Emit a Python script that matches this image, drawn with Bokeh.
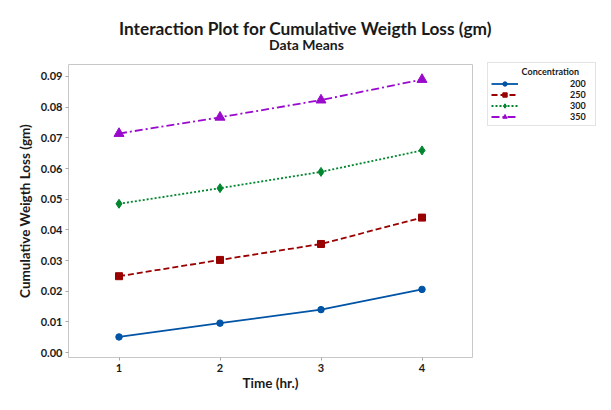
from bokeh.plotting import figure
from bokeh.models import Legend, LegendItem, Label, FixedTicker, NumeralTickFormatter, Range1d
from bokeh.embed import file_html
from bokeh.resources import INLINE

# ---- data ----
time_hr = [1, 2, 3, 4]
concentrations = ["200", "250", "300", "350"]
conc_200 = [0.0051, 0.0096, 0.0140, 0.0206]
conc_250 = [0.0249, 0.0302, 0.0354, 0.0440]
conc_300 = [0.0485, 0.0536, 0.0589, 0.0659]
conc_350 = [0.0714, 0.0767, 0.0823, 0.0890]
y_ticks = [0.00, 0.01, 0.02, 0.03, 0.04, 0.05, 0.06, 0.07, 0.08, 0.09]
x_ticks = [1, 2, 3, 4]

series = [conc_200, conc_250, conc_300, conc_350]
colors = ["#0054A6", "#990000", "#00862E", "#9A0ACD"]
dashes = ["solid", "6 3", "2 2", "8 3 2 3"]
markers = ["circle", "square", "diamond", "triangle"]
msizes = [6.5, 7, 9, 10]

FONT = "Lato"
TXT = "#1a1a1a"

p = figure(frame_width=404, frame_height=293, output_backend="svg", toolbar_location=None,
           x_range=Range1d(0.5, 4.5), y_range=Range1d(-0.0016, 0.0939),
           min_border_left=68, min_border_right=138, min_border_top=64, min_border_bottom=52)
p.styles = {"outline": "1px solid #d6d6d6", "outline-offset": "-4px"}

p.xgrid.visible = False
p.ygrid.visible = False
p.outline_line_color = "#c8c8c8"
p.outline_line_width = 1
p.background_fill_color = "white"
p.border_fill_color = "white"

for ax in (p.xaxis[0], p.yaxis[0]):
    ax.axis_line_color = None
    ax.major_tick_line_color = "#a8a8a8"
    ax.major_tick_in = 0
    ax.major_tick_out = 3
    ax.minor_tick_line_color = None
    ax.major_label_standoff = 3
    ax.major_label_text_font = FONT
    ax.major_label_text_font_style = "bold"
    ax.major_label_text_font_size = "11px"
    ax.major_label_text_color = TXT
    ax.axis_label_text_font = FONT
    ax.axis_label_text_font_style = "bold"
    ax.axis_label_text_font_size = "13.5px"
    ax.axis_label_text_color = TXT

p.xaxis.ticker = FixedTicker(ticks=x_ticks)
p.yaxis.ticker = FixedTicker(ticks=y_ticks)
p.yaxis.formatter = NumeralTickFormatter(format="0.00")
p.xaxis.axis_label = "Time (hr.)"
p.yaxis.axis_label = "Cumulative Weigth Loss (gm)"
p.xaxis.axis_label_standoff = 0
p.yaxis.axis_label_standoff = 5

items = []
for name, vals, c, d, m, s in zip(concentrations, series, colors, dashes, markers, msizes):
    ln = p.line(time_hr, vals, line_color=c, line_width=1.8, line_dash=d)
    sc = p.scatter(time_hr, vals, marker=m, size=s, fill_color=c, line_color=c)
    items.append(LegendItem(label=name, renderers=[ln, sc]))

legend = Legend(items=items, location=(15, 231),
                title="\u00a0" * 14 + "Concentration",
                title_text_font=FONT, title_text_font_size="9px", title_text_font_style="bold",
                title_text_color=TXT, title_standoff=1,
                label_text_font=FONT, label_text_font_size="9px", label_text_font_style="bold",
                label_text_color=TXT,
                glyph_width=27, glyph_height=11, label_height=11, label_width=22,
                label_standoff=52, spacing=0, padding=3, margin=0,
                border_line_color="#c8c8c8", background_fill_color="white", background_fill_alpha=1)
p.add_layout(legend, "right")

p.add_layout(Label(x=237, y=36, x_units="screen", y_units="screen",
                   text="Interaction Plot for Cumulative Weigth Loss (gm)",
                   text_align="center", text_baseline="alphabetic", text_font=FONT,
                   text_font_size="17.3px", text_font_style="bold", text_color=TXT), "above")
p.add_layout(Label(x=238, y=-1, x_units="screen", y_units="screen",
                   text="Data Means",
                   text_align="center", text_baseline="alphabetic", text_font=FONT,
                   text_font_size="14px", text_font_style="bold", text_color=TXT), "above")

open("out.html", "w").write(file_html(p, INLINE))
